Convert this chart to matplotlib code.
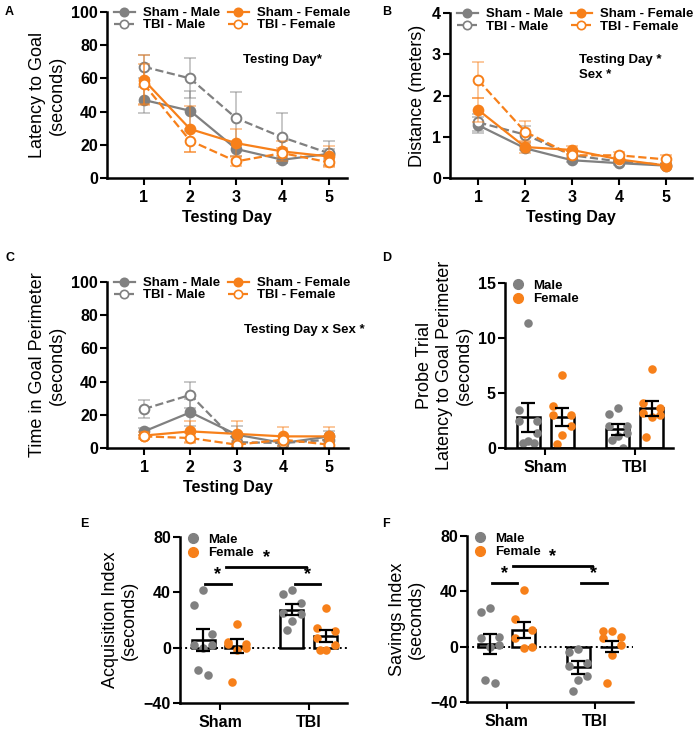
import matplotlib
matplotlib.use("Agg")
import matplotlib.pyplot as plt
import numpy as np
from matplotlib.lines import Line2D

plt.rcParams['font.family'] = ['Liberation Sans', 'DejaVu Sans']

GREY = '#808080'
ORANGE = '#f7801a'

days = [1, 2, 3, 4, 5]
groups = ['Sham', 'TBI']

# A - latency to goal (seconds)
lat_sham_m = [47, 40.5, 17.5, 11, 14.5]
lat_sham_m_err = [8, 12, 4, 2, 3]
lat_tbi_m = [67, 60, 36, 24.5, 15]
lat_tbi_m_err = [7, 12, 16, 14.5, 7]
lat_sham_f = [59, 29.5, 21, 16, 13]
lat_sham_f_err = [15, 14, 8.5, 6, 6]
lat_tbi_f = [56.5, 22.5, 10, 15, 9.5]
lat_tbi_f_err = [12, 7, 3, 3, 3]

# B - distance (meters)
dist_sham_m = [1.28, 0.72, 0.43, 0.36, 0.30]
dist_sham_m_err = [0.2, 0.05, 0.05, 0.05, 0.03]
dist_tbi_m = [1.35, 1.05, 0.55, 0.40, 0.32]
dist_tbi_m_err = [0.2, 0.2, 0.1, 0.05, 0.05]
dist_sham_f = [1.65, 0.75, 0.68, 0.45, 0.30]
dist_sham_f_err = [0.3, 0.15, 0.1, 0.05, 0.05]
dist_tbi_f = [2.37, 1.12, 0.55, 0.55, 0.45]
dist_tbi_f_err = [0.43, 0.25, 0.1, 0.08, 0.1]

# C - time in goal perimeter (seconds)
tgp_sham_m = [10, 21.5, 8, 3, 7]
tgp_sham_m_err = [2, 8, 5, 2, 3]
tgp_tbi_m = [23.5, 32, 3.5, 3, 5]
tgp_tbi_m_err = [5.5, 8, 3, 2, 2]
tgp_sham_f = [7.5, 10, 8.5, 7, 7]
tgp_sham_f_err = [2, 6.5, 7.5, 5.5, 5.5]
tgp_tbi_f = [7, 6, 2, 5, 2]
tgp_tbi_f_err = [1, 3, 2, 2, 2]

# D - probe trial latency (seconds)
probe_mean_m = [2.8, 1.7]
probe_err_m = [1.3, 0.5]
probe_mean_f = [2.8, 3.6]
probe_err_f = [0.8, 0.7]
probe_pts_m = [[11.4, 3.5, 2.5, 2.5, 1.4, 0.6, 0.5, 0.5],
               [3.6, 3.1, 2.0, 2.0, 1.4, 1.1, 0.7, 0.0]]
probe_pts_f = [[6.6, 3.8, 3.0, 3.0, 2.0, 1.2, 0.4],
               [7.2, 4.1, 3.6, 3.2, 3.0, 2.8, 1.0]]

# E - acquisition index (seconds)
acq_mean_m = [5.5, 27.5]
acq_err_m = [8, 4]
acq_mean_f = [1.5, 8.5]
acq_err_f = [5, 4.5]
acq_pts_m = [[42, 31, 10, 2, 2, 0, -16, -20],
             [42, 39, 32, 25, 24, 19, 13]]
acq_pts_f = [[17, 4, 3, 3, 0, -2, -25],
             [29, 14, 12, 7, 2, -2, -2]]

# F - savings index (seconds)
sav_mean_m = [2, -15]
sav_err_m = [7.5, 4.5]
sav_mean_f = [12, 0]
sav_err_f = [6, 4]
sav_pts_m = [[28, 25, 7, 6, 1, 0, -24, -26],
             [-2, -4, -12, -14, -21, -24, -32]]
sav_pts_f = [[41, 20, 12, 6, 0, -1],
             [11, 11, 7, 6, 1, -6, -26]]


def style_axis(ax):
    for s in ['top', 'right']:
        ax.spines[s].set_visible(False)
    for s in ['left', 'bottom']:
        ax.spines[s].set_linewidth(1.8)
    ax.tick_params(width=1.5, length=5, labelsize=11.5)
    ax.tick_params(axis='y', pad=1.5)
    for lab in ax.get_xticklabels() + ax.get_yticklabels():
        lab.set_fontweight('bold')


def line_panel(ax, series, ylim, yticks, ylabel, note):
    handles = []
    for vals, errs, color, filled, ls, label in series:
        ax.errorbar(days, vals, yerr=errs, fmt='none', ecolor=color,
                    alpha=0.5, capsize=4, elinewidth=1.2, capthick=1.2)
        mfc = color if filled else 'white'
        ax.plot(days, vals, color=color, ls=ls, lw=1.6, marker='o',
                ms=7, mfc=mfc, mec=color, mew=1.4)
        handles.append(Line2D([], [], color=color, ls=ls, lw=1.6, marker='o',
                              ms=6, mfc=mfc, mec=color, mew=1.2, label=label))
    ax.set_xlim(0.2, 5.4)
    ax.set_ylim(*ylim)
    ax.set_xticks(days)
    ax.set_yticks(yticks)
    ax.set_xlabel('Testing Day', fontsize=11.5, fontweight='bold')
    ax.set_ylabel(ylabel, fontsize=13)
    style_axis(ax)
    ax.legend(handles=handles, ncol=2, loc='upper left',
              bbox_to_anchor=(0.0, 1.07), frameon=False,
              prop={'weight': 'bold', 'size': 9.5}, handlelength=1.6,
              handletextpad=0.6, columnspacing=0.6, labelspacing=0.0,
              borderaxespad=0.1)
    ax.text(note[0], note[1], note[2], fontsize=9.5, fontweight='bold',
            va='top', ha='left', linespacing=1.3)


def bar_panel(ax, means_m, errs_m, means_f, errs_f, pts_m, pts_f,
              ylim, yticks, ylabel, zero_line=False):
    x = np.arange(len(groups))
    off = 0.19
    w = 0.26
    jit = [0.0, -0.1, 0.1, -0.1, 0.1, 0.0, -0.06, 0.06]
    for xs, means, errs, pts, color in [(x - off, means_m, errs_m, pts_m, GREY),
                                        (x + off, means_f, errs_f, pts_f, ORANGE)]:
        ax.bar(xs, means, width=w, color='white', edgecolor='black',
               linewidth=1.8, zorder=1)
        for xi, p in zip(xs, pts):
            ax.scatter(xi + np.array(jit[:len(p)]), p, s=38, color=color,
                       zorder=2, linewidths=0)
        ax.errorbar(xs, means, yerr=errs, fmt='none', ecolor='black',
                    capsize=5, elinewidth=1.6, capthick=1.6, zorder=3)
    if zero_line:
        ax.axhline(0, color='black', ls=':', lw=1.4, zorder=0)
    ax.set_xlim(-0.45, 1.43)
    ax.set_ylim(*ylim)
    ax.set_xticks(x)
    ax.set_xticklabels(groups)
    ax.set_yticks(yticks)
    ax.set_ylabel(ylabel, fontsize=13)
    style_axis(ax)
    hm = Line2D([], [], ls='none', marker='o', ms=7, color=GREY, label='Male')
    hf = Line2D([], [], ls='none', marker='o', ms=7, color=ORANGE, label='Female')
    ax.legend(handles=[hm, hf], loc='upper left', bbox_to_anchor=(0.0, 1.06),
              frameon=False, prop={'weight': 'bold', 'size': 9.5},
              handletextpad=0.6, labelspacing=0.1, borderaxespad=0.1,
              handlelength=1.0)


def sig_bars(ax):
    lines = [(-0.17, 0.12, 46), (0.07, 0.97, 58), (0.84, 1.13, 46)]
    for x0, x1, y in lines:
        ax.plot([x0, x1], [y, y], color='black', lw=2, clip_on=False)
        ax.text((x0 + x1) / 2, y + 1, '*', ha='center', va='bottom',
                fontsize=13, fontweight='bold')


fig = plt.figure(figsize=(7, 7.3), dpi=100)
W, H = 700.0, 730.0


def axes_px(left, top, right, bottom):
    return fig.add_axes([left / W, 1 - bottom / H, (right - left) / W, (bottom - top) / H])


axA = axes_px(107, 12, 347, 178)
line_panel(axA, [(lat_sham_m, lat_sham_m_err, GREY, True, '-', 'Sham - Male'),
                 (lat_tbi_m, lat_tbi_m_err, GREY, False, '--', 'TBI - Male'),
                 (lat_sham_f, lat_sham_f_err, ORANGE, True, '-', 'Sham - Female'),
                 (lat_tbi_f, lat_tbi_f_err, ORANGE, False, '--', 'TBI - Female')],
           (0, 100), [0, 20, 40, 60, 80, 100], 'Latency to Goal\n(seconds)',
           (3.15, 75, 'Testing Day*'))

axB = axes_px(450, 13, 692, 178)
line_panel(axB, [(dist_sham_m, dist_sham_m_err, GREY, True, '-', 'Sham - Male'),
                 (dist_tbi_m, dist_tbi_m_err, GREY, False, '--', 'TBI - Male'),
                 (dist_sham_f, dist_sham_f_err, ORANGE, True, '-', 'Sham - Female'),
                 (dist_tbi_f, dist_tbi_f_err, ORANGE, False, '--', 'TBI - Female')],
           (0, 4), [0, 1, 2, 3, 4], 'Distance (meters)',
           (3.15, 3.0, 'Testing Day *\nSex *'))
axB.set_xlim(0.4, 5.55)

axC = axes_px(107, 282, 348, 448)
line_panel(axC, [(tgp_sham_m, tgp_sham_m_err, GREY, True, '-', 'Sham - Male'),
                 (tgp_tbi_m, tgp_tbi_m_err, GREY, False, '--', 'TBI - Male'),
                 (tgp_sham_f, tgp_sham_f_err, ORANGE, True, '-', 'Sham - Female'),
                 (tgp_tbi_f, tgp_tbi_f_err, ORANGE, False, '--', 'TBI - Female')],
           (0, 100), [0, 20, 40, 60, 80, 100], 'Time in Goal Perimeter\n(seconds)',
           (3.15, 75, 'Testing Day x Sex *'))

axD = axes_px(505, 283, 673, 448)
bar_panel(axD, probe_mean_m, probe_err_m, probe_mean_f, probe_err_f,
          probe_pts_m, probe_pts_f, (0, 15), [0, 5, 10, 15],
          'Probe Trial\nLatency to Goal Perimeter\n(seconds)')

axE = axes_px(180, 537, 347, 703)
bar_panel(axE, acq_mean_m, acq_err_m, acq_mean_f, acq_err_f,
          acq_pts_m, acq_pts_f, (-40, 80), [-40, 0, 40, 80],
          'Acquisition Index\n(seconds)', zero_line=True)
sig_bars(axE)

axF = axes_px(467, 536, 633, 702)
bar_panel(axF, sav_mean_m, sav_err_m, sav_mean_f, sav_err_f,
          sav_pts_m, sav_pts_f, (-40, 80), [-40, 0, 40, 80],
          'Savings Index\n(seconds)', zero_line=True)
sig_bars(axF)

for lab, px, py in [('A', 5, 12), ('B', 382, 12), ('C', 5, 258),
                    ('D', 382, 258), ('E', 80, 524), ('F', 382, 524)]:
    fig.text(px / W, 1 - py / H, lab, fontsize=9, fontweight='bold',
             ha='left', va='center')

fig.savefig('out.png', dpi=100)
